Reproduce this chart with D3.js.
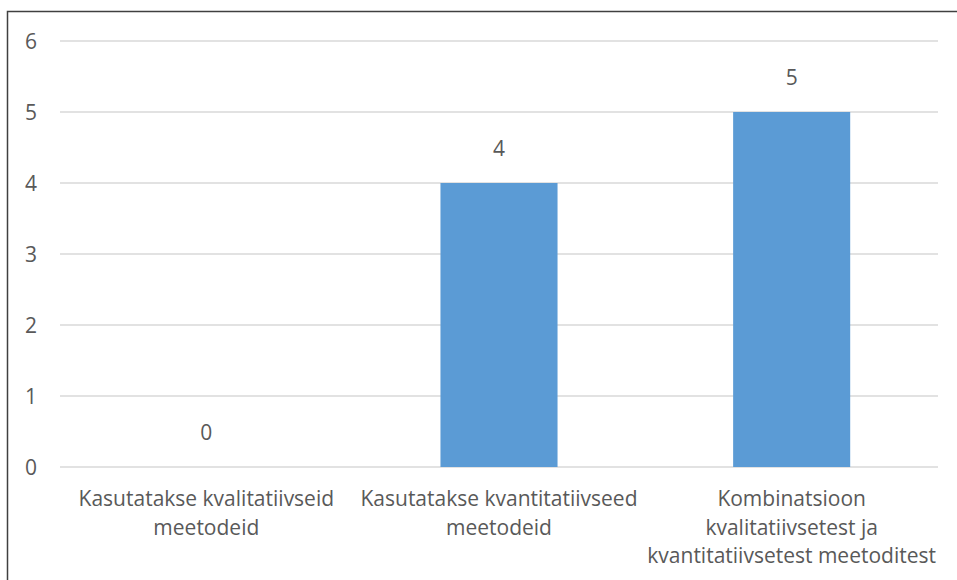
<!DOCTYPE html>
<html>
<head>
<meta charset="utf-8">
<script src="https://cdn.jsdelivr.net/npm/d3@7"></script>
<style>
  html, body { margin: 0; padding: 0; background: #fff; }
  svg { display: block; }
  text { font-family: "Open Sans", "Noto Sans", sans-serif; fill: #595959; }
</style>
</head>
<body>
<svg id="chart" width="957" height="580"></svg>
<script>
// Survey answers: which research methods are used
const categories = [
  "Kasutatakse kvalitatiivseid\nmeetodeid",
  "Kasutatakse kvantitatiivseed\nmeetodeid",
  "Kombinatsioon\nkvalitatiivsetest ja\nkvantitatiivsetest meetoditest"
];
const values = [0, 4, 5];
const yTicks = [0, 1, 2, 3, 4, 5, 6];

const W = 957, H = 580;
const margin = { left: 60, right: 19, top: 41, bottom: 113 };
const fontSize = 21;

const svg = d3.select("#chart");

// outer frame
svg.append("rect")
  .attr("x", 7.5).attr("y", 11.5)
  .attr("width", W + 20).attr("height", H + 20)
  .attr("fill", "none").attr("stroke", "#404040").attr("stroke-width", 1.5);

const x = d3.scaleBand()
  .domain(categories)
  .range([margin.left, W - margin.right])
  .paddingInner(0.6)
  .paddingOuter(0.3);

const y = d3.scaleLinear()
  .domain([0, 6])
  .range([H - margin.bottom, margin.top]);

// gridlines
svg.append("g")
  .selectAll("line")
  .data(yTicks)
  .join("line")
  .attr("x1", margin.left).attr("x2", W - margin.right)
  .attr("y1", d => y(d)).attr("y2", d => y(d))
  .attr("stroke", "#d9d9d9").attr("stroke-width", 1.3);

// y axis labels
const yAxis = d3.axisLeft(y).tickValues(yTicks).tickFormat(d3.format("d"))
  .tickSize(0).tickPadding(0);
svg.append("g")
  .attr("transform", `translate(${margin.left - 23},0)`)
  .call(yAxis)
  .call(g => g.select(".domain").remove())
  .call(g => g.selectAll("text")
    .attr("font-family", null)
    .style("font-size", fontSize + "px")
    .attr("fill", null)
    .attr("dy", "0.36em"));

// bars
svg.append("g")
  .selectAll("rect")
  .data(values)
  .join("rect")
  .attr("x", (d, i) => x(categories[i]))
  .attr("width", x.bandwidth())
  .attr("y", d => y(d))
  .attr("height", d => y(0) - y(d))
  .attr("fill", "#5b9bd5");

// value labels
svg.append("g")
  .selectAll("text")
  .data(values)
  .join("text")
  .attr("x", (d, i) => x(categories[i]) + x.bandwidth() / 2)
  .attr("y", d => y(d) - 27)
  .attr("text-anchor", "middle")
  .style("font-size", fontSize + "px")
  .text(d => d);

// category labels
const lineH = 28.5;
const catG = svg.append("g");
categories.forEach(c => {
  const t = catG.append("text")
    .attr("text-anchor", "middle")
    .style("font-size", fontSize + "px");
  c.split("\n").forEach((line, k) => {
    t.append("tspan")
      .attr("x", x(c) + x.bandwidth() / 2)
      .attr("y", y(0) + 39 + k * lineH)
      .text(line);
  });
});
</script>
</body>
</html>
